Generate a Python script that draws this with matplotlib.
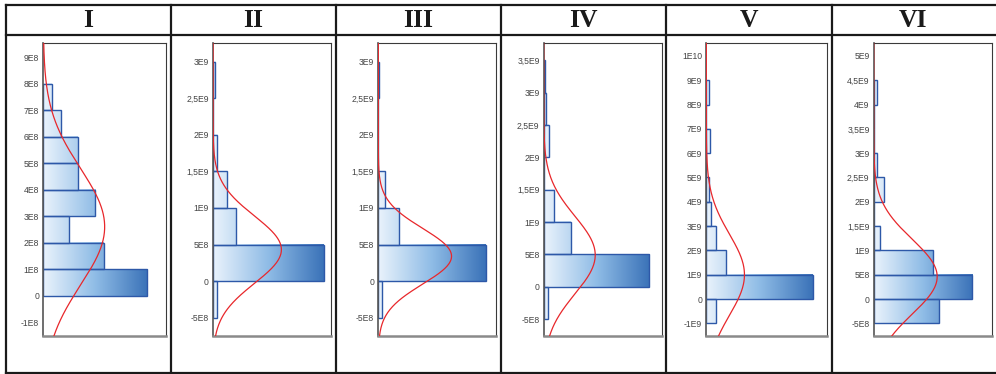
import numpy as np
import matplotlib
matplotlib.use("Agg")
import matplotlib.pyplot as plt
from matplotlib.colors import LinearSegmentedColormap
from matplotlib.lines import Line2D

# ---------------- data ----------------
titles = ["I", "II", "III", "IV", "V", "VI"]

bin_start = [0.0, -5e8, -5e8, -5e8, -1e9, -5e8]
bin_width = [1e8, 5e8, 5e8, 5e8, 1e9, 5e8]

values_I = [12, 7, 3, 6, 4, 4, 2, 1]
values_II = [1.1, 30, 6.3, 3.7, 1.1, 0, 0.6]
values_III = [1.0, 32.5, 6.3, 2.0, 0, 0, 0.3]
values_IV = [1.6, 42, 10.8, 4.1, 0, 2.0, 1.1, 0.4]
values_V = [2.9, 33.2, 6.25, 2.9, 1.6, 0.9, 0, 1.25, 0, 0.9]
values_VI = [20, 30, 18, 2, 0, 3, 1, 0, 0, 1]
values = [values_I, values_II, values_III, values_IV, values_V, values_VI]

fit_mean = [2.6e8, 4.3e8, 3.4e8, 4.9e8, 1.0e9, 4.6e8]
fit_sd = [2.2e8, 4.6e8, 3.8e8, 6.0e8, 1.67e9, 7.7e8]

ticks_I = [-1e8, 0, 1e8, 2e8, 3e8, 4e8, 5e8, 6e8, 7e8, 8e8, 9e8]
labels_I = ["-1E8", "0", "1E8", "2E8", "3E8", "4E8", "5E8", "6E8", "7E8", "8E8", "9E8"]
ticks_II = [-5e8, 0, 5e8, 1e9, 1.5e9, 2e9, 2.5e9, 3e9]
labels_II = ["-5E8", "0", "5E8", "1E9", "1,5E9", "2E9", "2,5E9", "3E9"]
ticks_IV = [-5e8, 0, 5e8, 1e9, 1.5e9, 2e9, 2.5e9, 3e9, 3.5e9]
labels_IV = ["-5E8", "0", "5E8", "1E9", "1,5E9", "2E9", "2,5E9", "3E9", "3,5E9"]
ticks_V = [-1e9, 0, 1e9, 2e9, 3e9, 4e9, 5e9, 6e9, 7e9, 8e9, 9e9, 1e10]
labels_V = ["-1E9", "0", "1E9", "2E9", "3E9", "4E9", "5E9", "6E9", "7E9", "8E9", "9E9", "1E10"]
ticks_VI = [-5e8, 0, 5e8, 1e9, 1.5e9, 2e9, 2.5e9, 3e9, 3.5e9, 4e9, 4.5e9, 5e9]
labels_VI = ["-5E8", "0", "5E8", "1E9", "1,5E9", "2E9", "2,5E9", "3E9", "3,5E9", "4E9", "4,5E9", "5E9"]
ticks = [ticks_I, ticks_II, ticks_II, ticks_IV, ticks_V, ticks_VI]
tick_labels = [labels_I, labels_II, labels_II, labels_IV, labels_V, labels_VI]

# ---------------- layout ----------------
W, H = 996, 374
ylims = [(-1.52e8, 9.52e8), (-7.5e8, 3.25e9), (-7.5e8, 3.25e9),
         (-7.6e8, 3.76e9), (-1.52e9, 1.052e10), (-7.6e8, 5.26e9)]
xmax = [14.14, 32.1, 35.6, 47.2, 37.8, 36.3]
ax_px = [(43.3, 166.0), (213.0, 331.3), (378.3, 496.3),
         (543.7, 661.7), (706.3, 827.3), (873.7, 992.3)]
ax_top, ax_bot = 43.3, 336.0
col_x = [6.0, 171.0, 335.5, 500.5, 665.7, 831.5, 997.5]
tbl_top, tbl_hdr, tbl_bot = 5.0, 35.0, 373.0

cmap = LinearSegmentedColormap.from_list(
    "grad", ["#eaf3fc", "#8fbce6", "#3a72b8"])

fig = plt.figure(figsize=(W / 100, H / 100), dpi=100)
fig.patch.set_facecolor("white")


def fx(px):
    return px / W


def fy(py):
    return 1 - py / H


# table lines
lc = "#1a1a1a"
lw = 1.6
for y in (tbl_top, tbl_hdr, tbl_bot):
    fig.add_artist(Line2D([fx(col_x[0]), 1.0], [fy(y), fy(y)], color=lc, lw=lw))
for x in col_x:
    fig.add_artist(Line2D([fx(x), fx(x)], [fy(tbl_top), fy(tbl_bot)], color=lc, lw=lw))

for i in range(6):
    cx = (col_x[i] + col_x[i + 1]) / 2
    if i == 5:
        cx = (col_x[i] + 996) / 2 - 1
    fig.text(fx(cx), fy(20.5), titles[i], ha="center", va="center",
             fontsize=18.5, fontweight="bold", family="Liberation Serif",
             color="#1a1a1a")

    l, r = ax_px[i]
    ax = fig.add_axes([fx(l), fy(ax_bot), (r - l) / W, (ax_bot - ax_top) / H])
    vals = np.array(values[i], dtype=float)
    bw = bin_width[i]
    starts = bin_start[i] + bw * np.arange(len(vals))
    vmax = vals.max()

    # gradient fills
    for s, v in zip(starts, vals):
        if v <= 0:
            continue
        grad = np.linspace(0, v / vmax, 256).reshape(1, -1)
        ax.imshow(grad, cmap=cmap, vmin=0, vmax=1, aspect="auto",
                  extent=[0, v, s, s + bw], origin="lower",
                  interpolation="bilinear", zorder=1)
    ax.barh(starts, vals, height=bw, align="edge", facecolor="none",
            edgecolor="#2d58a8", linewidth=1.0, zorder=2)

    # normal curve
    y0, y1 = ylims[i]
    yy = np.linspace(y0, y1, 400)
    mu, sd = fit_mean[i], fit_sd[i]
    scale = vals.sum() * bw / (sd * np.sqrt(2 * np.pi))
    xx = scale * np.exp(-0.5 * ((yy - mu) / sd) ** 2)
    ax.plot(xx, yy, color="#e8272b", lw=0.9, zorder=3)

    ax.set_xlim(0, xmax[i])
    ax.set_ylim(y0, y1)
    ax.set_xticks([])
    ax.set_yticks(ticks[i])
    ax.set_yticklabels(tick_labels[i], fontsize=6.2, family="Liberation Sans",
                       color="#444444")
    ax.tick_params(axis="y", length=0, pad=3)
    for side in ("top", "right"):
        ax.spines[side].set_color("#3a3a3a")
        ax.spines[side].set_linewidth(0.8)
    ax.spines["bottom"].set_color("#8a8a8a")
    ax.spines["bottom"].set_linewidth(1.8)
    ax.spines["left"].set_color("#555555")
    ax.spines["left"].set_linewidth(1.2)

fig.savefig("out.png", dpi=100, facecolor="white")
